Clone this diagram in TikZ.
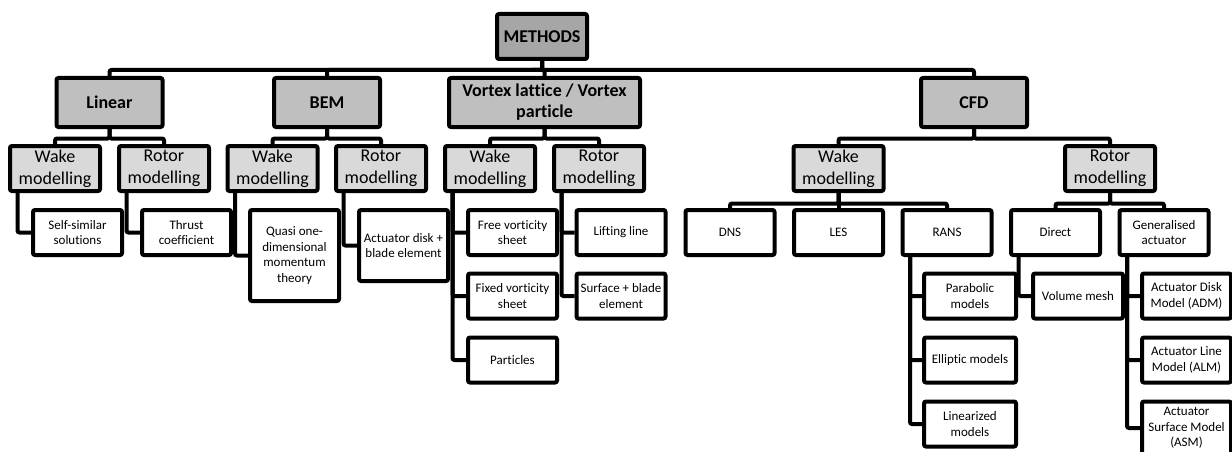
\documentclass[tikz,border=0pt]{standalone}
\usepackage{fontspec}
\setmainfont[Ligatures=NoCommon]{Carlito}
\usepackage{tikz}

\begin{document}
\begin{tikzpicture}[x=1pt, y=-1pt,
            every node/.style={draw, line width=4pt, rounded corners=2pt, align=center, inner sep=0pt}, % Thick box for every node
            rootbox/.style={fill=gray!70, minimum width=90pt, minimum height=45pt, font=\bfseries\fontsize{18}{21}\selectfont}, % Top node
            methodbox/.style={fill=gray!50, minimum width=106pt, minimum height=49pt, font=\bfseries\fontsize{18}{21}\selectfont}, % Method families
            partbox/.style={fill=gray!30, minimum width=90pt, minimum height=45pt, font=\fontsize{18}{22}\selectfont}, % Wake / rotor
            leafbox/.style={fill=white, minimum width=89pt, minimum height=45pt, font=\fontsize{13}{15.5}\selectfont}, % Sub-models
            link/.style={line width=4pt, rounded corners=2pt} % Connectors
            ]
        \useasboundingbox (0,0) rectangle (1232,452);

        % Root and method families
        \node[rootbox] (methods) at (542,36.5) {METHODS};
        \node[methodbox] (linear) at (109.5,102.5) {Linear};
        \node[methodbox] (bem) at (327,102.5) {BEM};
        \node[methodbox, minimum width=191pt] (vortex) at (544.5,102.5) {Vortex lattice / Vortex\\particle};
        \node[methodbox] (cfd) at (974,102.5) {CFD};

        % Wake and rotor modelling
        \node[partbox] (lwake) at (55,168.5) {Wake\\modelling};
        \node[partbox] (lrotor) at (164,168.5) {Rotor\\modelling};
        \node[partbox] (bwake) at (272.5,168.5) {Wake\\modelling};
        \node[partbox] (brotor) at (381,168.5) {Rotor\\modelling};
        \node[partbox] (vwake) at (490,168.5) {Wake\\modelling};
        \node[partbox] (vrotor) at (599,168.5) {Rotor\\modelling};
        \node[partbox] (cwake) at (838.5,168.5) {Wake\\modelling};
        \node[partbox] (crotor) at (1110,168.5) {Rotor\\modelling};

        % Sub-models
        \node[leafbox] (selfsim) at (77.5,232.5) {Self-similar\\solutions};
        \node[leafbox] (thrust) at (186.5,232.5) {Thrust\\coefficient};
        \node[leafbox, minimum height=91pt] (quasi) at (294.5,255.5) {Quasi one-\\dimensional\\momentum\\theory};
        \node[leafbox, minimum height=71pt] (actdisk) at (403.5,245.5) {Actuator disk +\\blade element};
        \node[leafbox] (freevort) at (512.5,232.5) {Free vorticity\\sheet};
        \node[leafbox] (fixedvort) at (512.5,296) {Fixed vorticity\\sheet};
        \node[leafbox] (particles) at (512.5,360) {Particles};
        \node[leafbox] (lifting) at (621,232.5) {Lifting line};
        \node[leafbox] (surface) at (621,296) {Surface + blade\\element};
        \node[leafbox] (dns) at (730,232.5) {DNS};
        \node[leafbox] (les) at (838.5,232.5) {LES};
        \node[leafbox] (rans) at (947,232.5) {RANS};
        \node[leafbox] (direct) at (1055.5,232.5) {Direct};
        \node[leafbox] (genact) at (1164,232.5) {Generalised\\actuator};
        \node[leafbox, minimum width=92pt] (parabolic) at (970,296) {Parabolic\\models};
        \node[leafbox, minimum width=92pt] (elliptic) at (970,360) {Elliptic models};
        \node[leafbox, minimum width=92pt] (linearized) at (970,424) {Linearized\\models};
        \node[leafbox, minimum width=90pt] (volmesh) at (1078,296) {Volume mesh};
        \node[leafbox] (adm) at (1186.5,296) {Actuator Disk\\Model (ADM)};
        \node[leafbox] (alm) at (1186.5,360) {Actuator Line\\Model (ALM)};
        \node[leafbox, minimum height=53pt] (asm) at (1186.5,428) {Actuator\\Surface Model\\(ASM)};

        % Tree connectors
        \foreach \c in {linear, bem, vortex, cfd}
            \draw[link] (methods.south) -- ++(0,9) -| (\c.north);
        \foreach \p/\c in {linear/lwake, linear/lrotor, bem/bwake, bem/brotor, vortex/vwake, vortex/vrotor, cfd/cwake, cfd/crotor}
            \draw[link] (\p.south) -- ++(0,9.5) -| (\c.north);
        \foreach \p/\c in {cwake/dns, cwake/les, cwake/rans, crotor/direct, crotor/genact}
            \draw[link] (\p.south) -- ++(0,10.5) -| (\c.north);

        % Side connectors down the left edge
        \foreach \p/\c in {lwake/selfsim, lrotor/thrust, bwake/quasi, brotor/actdisk, vwake/freevort, vwake/fixedvort, vwake/particles, vrotor/lifting, vrotor/surface, rans/parabolic, rans/elliptic, rans/linearized, direct/volmesh, genact/adm, genact/alm, genact/asm}
            \draw[link] ([xshift=9.5pt]\p.south west) |- (\c.west);

    \end{tikzpicture}
\end{document}
